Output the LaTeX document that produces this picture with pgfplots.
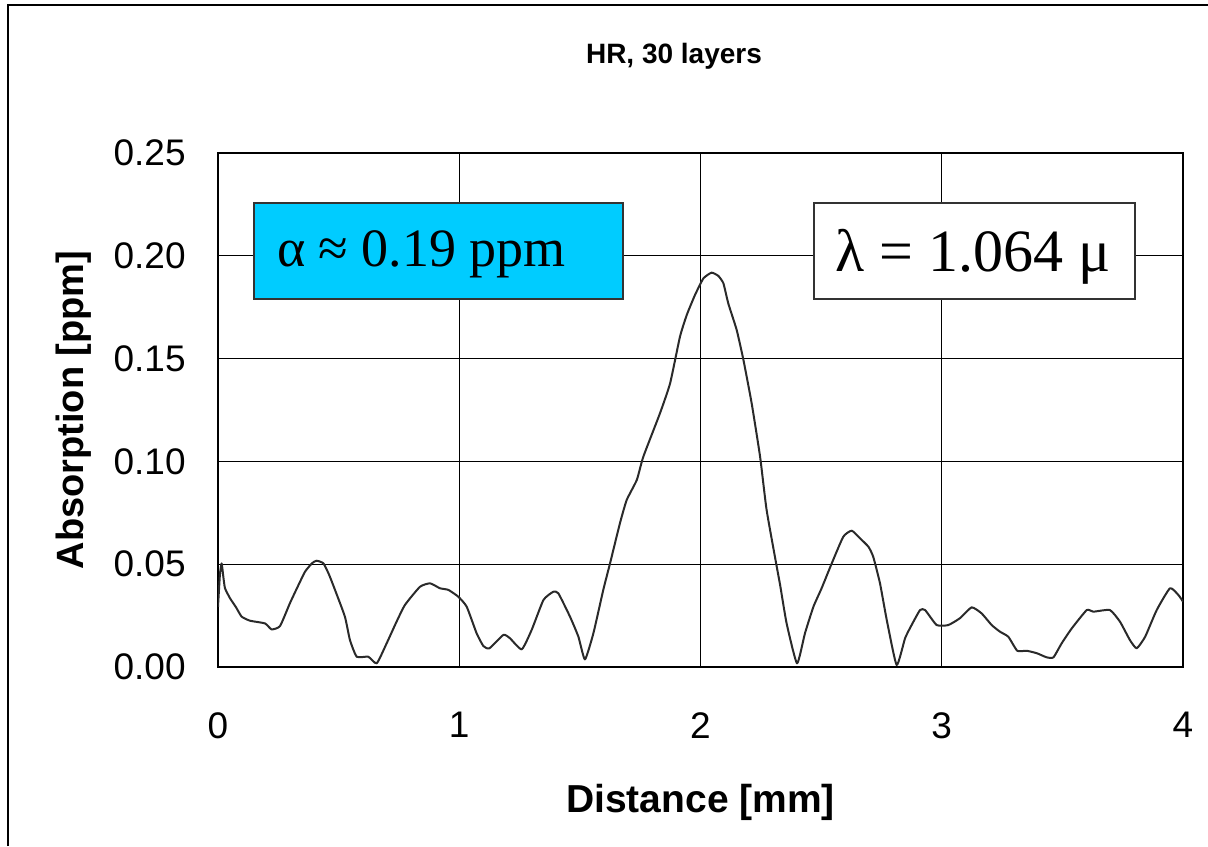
\documentclass[border=0pt]{standalone}
\usepackage{fontspec}
\setmainfont{Liberation Sans}
\newfontfamily\seriffont{Liberation Serif}
\usepackage{pgfplots}
\pgfplotsset{compat=1.18}
\definecolor{boxcyan}{HTML}{00CCFF}
\definecolor{curvegray}{HTML}{2A2A2A}

% absorption profile across the sample
\pgfplotstableread{
x y
0.000 0.0293
0.008 0.0450
0.015 0.0504
0.022 0.0440
0.029 0.0383
0.050 0.0334
0.075 0.0290
0.098 0.0245
0.133 0.0225
0.195 0.0212
0.222 0.0183
0.257 0.0199
0.298 0.0310
0.330 0.0390
0.361 0.0464
0.390 0.0505
0.409 0.0517
0.437 0.0504
0.460 0.0450
0.485 0.0375
0.526 0.0245
0.547 0.0131
0.575 0.0050
0.623 0.0050
0.658 0.0018
0.699 0.0115
0.740 0.0220
0.775 0.0302
0.837 0.0390
0.879 0.0407
0.920 0.0383
0.955 0.0375
0.996 0.0342
1.031 0.0293
1.072 0.0164
1.100 0.0102
1.125 0.0091
1.183 0.0156
1.210 0.0140
1.259 0.0086
1.300 0.0180
1.349 0.0326
1.390 0.0366
1.411 0.0358
1.459 0.0245
1.494 0.0147
1.521 0.0037
1.556 0.0164
1.597 0.0375
1.625 0.0504
1.666 0.0699
1.694 0.0812
1.736 0.0910
1.763 0.1023
1.832 0.1234
1.874 0.1380
1.915 0.1607
1.943 0.1712
1.977 0.1809
2.012 0.1890
2.046 0.1918
2.074 0.1902
2.095 0.1866
2.115 0.1769
2.150 0.1639
2.178 0.1493
2.212 0.1283
2.247 0.1023
2.274 0.0764
2.316 0.0488
2.330 0.0399
2.357 0.0212
2.400 0.0018
2.433 0.0164
2.468 0.0293
2.502 0.0383
2.544 0.0504
2.592 0.0634
2.627 0.0663
2.661 0.0626
2.696 0.0585
2.716 0.0536
2.744 0.0407
2.772 0.0229
2.813 0.0010
2.848 0.0140
2.875 0.0204
2.910 0.0277
2.931 0.0277
2.979 0.0204
3.027 0.0204
3.075 0.0237
3.124 0.0290
3.165 0.0261
3.207 0.0204
3.241 0.0172
3.276 0.0147
3.313 0.0079
3.352 0.0079
3.394 0.0067
3.435 0.0047
3.463 0.0047
3.497 0.0115
3.539 0.0188
3.601 0.0277
3.628 0.0269
3.697 0.0277
3.739 0.0220
3.780 0.0131
3.808 0.0091
3.843 0.0147
3.891 0.0277
3.946 0.0383
3.981 0.0350
4.000 0.0318
}\profile

\begin{document}
\begin{tikzpicture}
\path[use as bounding box] (0,0) rectangle (604pt,423pt);
% outer frame (top and left edges)
\draw[line width=1pt] (4.2pt,0pt) -- (4.2pt,420.3pt) -- (604pt,420.3pt);
% title
\node[anchor=base, font=\bfseries\fontsize{14}{16}\selectfont] at (337pt,391pt) {HR, 30 layers};

\begin{axis}[
  at={(109pt,89.5pt)}, anchor=south west,
  width=482.5pt, height=257pt, scale only axis,
  xmin=0, xmax=4, ymin=0, ymax=0.25,
  xtick={0,1,2,3,4},
  ytick={0,0.05,0.1,0.15,0.2,0.25},
  grid=major,
  major grid style={black, line width=0.5pt},
  axis line style={black, line width=0.6pt},
  major tick length=0pt,
  /pgf/number format/assume math mode=true,
  tick label style={font=\fontsize{18.5}{20}\selectfont},
  yticklabel style={/pgf/number format/fixed, /pgf/number format/fixed zerofill, /pgf/number format/precision=2},
  y tick label style={anchor=east, inner sep=0pt, xshift=-16pt},
  x tick label style={anchor=north, inner sep=0pt, yshift=-22.5pt},
  xlabel={Distance [mm]},
  ylabel={Absorption [ppm]},
  xlabel style={font=\bfseries\fontsize{19.5}{21}\selectfont, at={(axis description cs:0.5,-0.2821)}, anchor=base},
  ylabel style={font=\bfseries\fontsize{19}{21}\selectfont, at={(axis description cs:-0.1399,0.5)}, anchor=base},
]
\addplot[curvegray, line width=1pt, line join=round, smooth, tension=0.3, mark=none] table[x=x, y=y] {\profile};

\draw[fill=boxcyan, draw=black!80, line width=0.8pt] (axis cs:0.149,0.179) rectangle (axis cs:1.679,0.2257);
\node[anchor=base west, inner sep=0pt, font=\seriffont\fontsize{27}{29}\selectfont] at (axis cs:0.243,0.195) {α ≈ 0.19 ppm};

\draw[fill=white, draw=black!80, line width=0.8pt] (axis cs:2.470,0.179) rectangle (axis cs:3.801,0.2257);
\node[anchor=base west, inner sep=0pt, font=\seriffont\fontsize{30}{32}\selectfont] at (axis cs:2.558,0.1923) {λ = 1.064 μ};
\end{axis}
\end{tikzpicture}
\end{document}
